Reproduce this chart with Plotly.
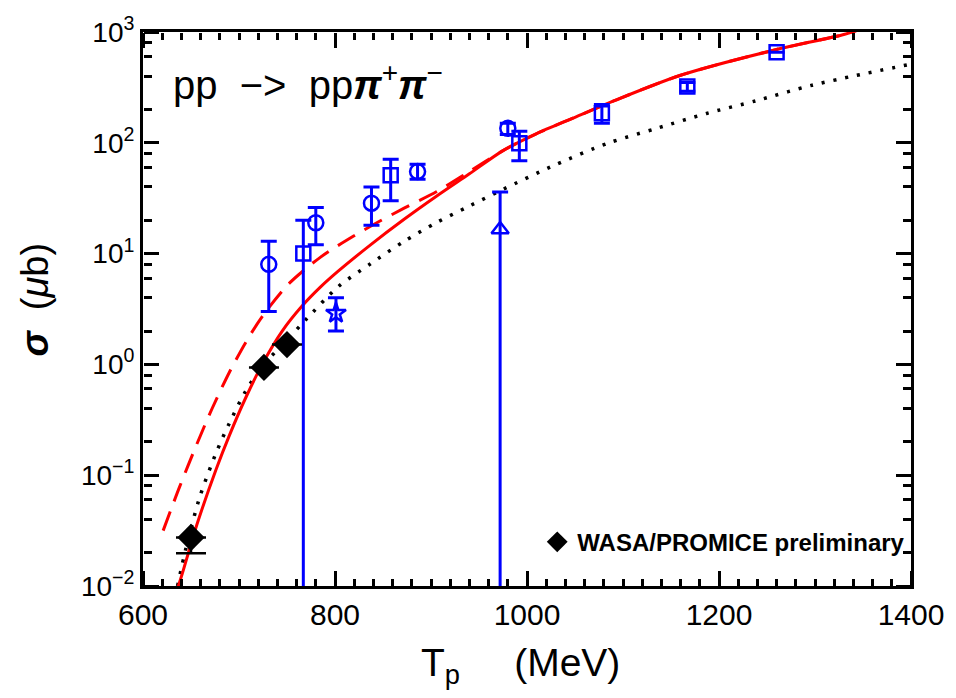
import plotly.graph_objects as go

# ---------------- data ----------------
# theory curves
solid_x = [636, 641, 656, 676, 690, 707, 726, 745, 765, 785, 803, 837, 872, 906, 940, 975, 1009, 1050, 1091, 1160, 1259, 1331, 1350]
solid_y = [0.0095, 0.013, 0.0355, 0.112, 0.229, 0.50, 1.07, 2.0, 3.31, 5.0, 6.9, 12.0, 20.4, 33.1, 52.5, 85, 120, 170, 240, 407, 692, 955, 1080]

dash_x = [621, 638, 656, 672, 690, 707, 724, 751, 785, 820, 844, 872, 906, 940, 975, 1009, 1050, 1091, 1160, 1259, 1331, 1350]
dash_y = [0.0316, 0.078, 0.19, 0.40, 0.85, 1.58, 2.69, 5.25, 9.3, 14.5, 19.1, 25.7, 36.3, 55, 85, 120, 170, 240, 407, 692, 955, 1080]

dot_x = [636, 645, 659, 676, 690, 707, 726, 750, 769, 803, 837, 872, 906, 940, 975, 1029, 1084, 1135, 1187, 1239, 1297, 1400]
dot_y = [0.010, 0.0224, 0.063, 0.158, 0.295, 0.575, 1.0, 1.66, 2.5, 5.0, 8.1, 12.9, 19.1, 26.9, 38, 63, 99, 135, 184, 240, 331, 513]

# WASA/PROMICE preliminary
wasa_x = [650, 726, 750]
wasa_y = [0.0274, 0.94, 1.51]
wasa_em = [0.0077, 0, 0]
wasa_ep = [0, 0, 0]

# other data (blue)
circ_x = [731, 780, 838, 886, 980]
circ_y = [8, 19, 28.5, 55, 135]
circ_ep = [4.9, 7, 11.5, 9, 15]
circ_em = [5, 7, 10.5, 8, 16]

sq_x = [767, 858, 992, 1078, 1167, 1260]
sq_y = [10, 51, 99, 185, 322, 655]
sq_ep = [10, 20, 28, 37, 28, 0]
sq_em = [9.999, 21, 30, 35, 30, 0]

tri_x = [972]
tri_y = [16.5]
tri_ep = [19.5]
tri_em = [16.499]

star_x = [801]
star_y = [2.9]
star_ep = [1.1]
star_em = [0.9]

y_tickvals = [0.01, 0.1, 1, 10, 100, 1000]
y_ticktext = ["10<sup>\u22122</sup>", "10<sup>\u22121</sup>", "10<sup>0</sup>",
              "10<sup>1</sup>", "10<sup>2</sup>", "10<sup>3</sup>"]
x_tickvals = [600, 800, 1000, 1200, 1400]
y_minor = [m * 10 ** e for e in range(-2, 3) for m in (2, 4, 6, 8)]

# ---------------- figure ----------------
BLUE = "#0000ff"
RED = "#ff0000"
FONT = "Liberation Sans"
X_RANGE = [600, 1400]
Y_RANGE = [-2, 3]

fig = go.Figure()

fig.add_trace(go.Scatter(x=dot_x, y=dot_y, mode="lines", showlegend=False,
                         line=dict(color="black", width=3.5, dash="3px,9px", shape="spline", smoothing=0.8)))
fig.add_trace(go.Scatter(x=solid_x, y=solid_y, mode="lines", showlegend=False,
                         line=dict(color=RED, width=3, shape="spline", smoothing=0.8)))
fig.add_trace(go.Scatter(x=dash_x, y=dash_y, mode="lines", showlegend=False,
                         line=dict(color=RED, width=3, dash="20px,11px", shape="spline", smoothing=0.8)))

def blue_trace(x, y, ep, em, symbol, size):
    return go.Scatter(
        x=x, y=y, mode="markers", showlegend=False,
        marker=dict(symbol=symbol, size=size, color=BLUE,
                    line=dict(color=BLUE, width=2.5)),
        error_y=dict(type="data", symmetric=False, array=ep, arrayminus=em,
                     color=BLUE, thickness=3, width=8))

fig.add_trace(blue_trace(circ_x, circ_y, circ_ep, circ_em, "circle-open", 15))
fig.add_trace(blue_trace(sq_x, sq_y, sq_ep, sq_em, "square-open", 14))
fig.add_trace(blue_trace(tri_x, tri_y, tri_ep, tri_em, "triangle-up-open", 15))
fig.add_trace(blue_trace(star_x, star_y, star_ep, star_em, "star-open", 15))

fig.add_trace(go.Scatter(
    x=wasa_x, y=wasa_y, mode="markers", name="<b>WASA/PROMICE preliminary</b>",
    marker=dict(symbol="diamond", size=21, color="black"),
    error_y=dict(type="data", symmetric=False, array=wasa_ep, arrayminus=wasa_em,
                 color="black", thickness=2.5, width=15)))

# invisible carriers so that the tick-only overlay axes get drawn
for xa, ya in (("x2", "y2"), ("x3", "y3")):
    fig.add_trace(go.Scatter(x=dot_x, y=dot_y, xaxis=xa, yaxis=ya, mode="lines",
                             line=dict(width=0, color="rgba(0,0,0,0)"),
                             showlegend=False, hoverinfo="skip"))

# main axes: frame + labels
fig.update_layout(
    xaxis=dict(range=X_RANGE, tickvals=x_tickvals, ticks="",
               tickfont=dict(family=FONT, size=30, color="black"),
               showline=True, linecolor="black", linewidth=3, mirror=True,
               showgrid=False, zeroline=False),
    yaxis=dict(type="log", range=Y_RANGE, tickvals=y_tickvals, ticktext=y_ticktext, ticks="",
               tickfont=dict(family=FONT, size=28, color="black"),
               showline=True, linecolor="black", linewidth=3, mirror=True,
               showgrid=False, zeroline=False),
)

# tick-only axes, ticks pointing into the plot area
xtick_common = dict(range=X_RANGE, tickvals=x_tickvals, ticks="outside", ticklen=15, tickwidth=3,
                    tickcolor="black", showticklabels=False, showline=False, showgrid=False,
                    zeroline=False, overlaying="x", anchor="free",
                    minor=dict(dtick=20, ticks="outside", ticklen=7, tickwidth=3,
                               tickcolor="black", showgrid=False))
ytick_common = dict(type="log", range=Y_RANGE, tickvals=y_tickvals, ticks="outside", ticklen=15,
                    tickwidth=3, tickcolor="black", showticklabels=False, showline=False,
                    showgrid=False, zeroline=False, overlaying="y", anchor="free",
                    minor=dict(tickvals=y_minor, ticks="outside", ticklen=8, tickwidth=3,
                               tickcolor="black", showgrid=False))

fig.update_layout(
    xaxis2=dict(side="top", position=0, **xtick_common),
    xaxis3=dict(side="bottom", position=1, **xtick_common),
    yaxis2=dict(side="right", position=0, **ytick_common),
    yaxis3=dict(side="left", position=1, **ytick_common),
)

fig.update_layout(
    width=956, height=698,
    margin=dict(l=143, r=36, t=32, b=112),
    paper_bgcolor="white", plot_bgcolor="white",
    font=dict(family=FONT, color="black"),
    showlegend=True,
    legend=dict(x=0.999, y=0.079, xanchor="right", yanchor="middle",
                bgcolor="rgba(0,0,0,0)", borderwidth=0,
                font=dict(family=FONT, size=24, color="black")),
    annotations=[
        dict(text="pp\u00a0\u00a0\u2212>\u00a0\u00a0pp<b><i>\u03c0</i></b><sup>+</sup><b><i>\u03c0</i></b><sup>\u2212</sup>",
             xref="paper", yref="paper", x=0.037, y=0.91, xanchor="left", yanchor="middle",
             showarrow=False, font=dict(family=FONT, size=40, color="black")),
        dict(text="T<sub>p</sub>\u00a0\u00a0\u00a0\u00a0\u00a0(MeV)",
             xref="paper", yref="paper", x=0.359, y=-0.095, xanchor="left", yanchor="top",
             showarrow=False, font=dict(family=FONT, size=39, color="black")),
        dict(text="<b><i>\u03c3</i></b>\u00a0\u00a0(<i>\u03bc</i>b)", textangle=-90,
             xref="paper", yref="paper", x=-0.140, y=0.518, xanchor="center", yanchor="middle",
             showarrow=False, font=dict(family=FONT, size=38, color="black")),
    ],
)

fig.write_html("out.html")
